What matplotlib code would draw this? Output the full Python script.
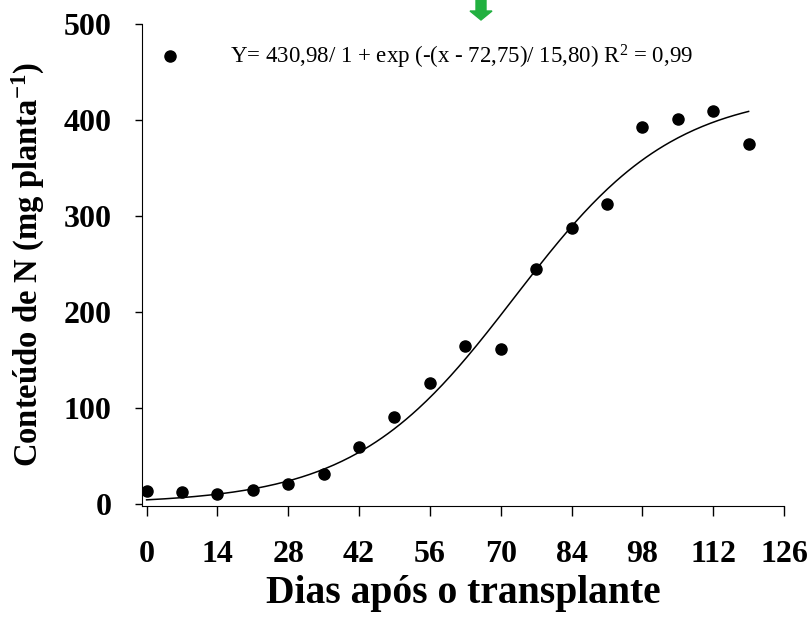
import numpy as np
import matplotlib
matplotlib.use("Agg")
import matplotlib.pyplot as plt
from matplotlib.patches import FancyArrow

plt.rcParams['font.family'] = ['Liberation Serif', 'DejaVu Serif']
plt.rcParams['mathtext.fontset'] = 'custom'
plt.rcParams['mathtext.rm'] = 'Liberation Serif'
plt.rcParams['mathtext.it'] = 'Liberation Serif:italic'
plt.rcParams['mathtext.bf'] = 'Liberation Serif:bold'

days = [0, 7, 14, 21, 28, 35, 42, 49, 56, 63, 70, 77, 84, 91, 98, 105, 112, 119]
n_content = [13.8, 12.5, 10.4, 14.2, 21, 31, 59, 91, 125.6, 165, 162, 245, 288, 312.5, 392.5, 401, 409, 375]
a_param, x0_param, b_param = 430.98, 72.75, 15.80
x_ticks = [0, 14, 28, 42, 56, 70, 84, 98, 112, 126]
y_ticks = [0, 100, 200, 300, 400, 500]
eq_label = "Y= 430,98/ 1 + exp (-(x - 72,75)/ 15,80) R$^{\\mathrm{2}}$ = 0,99"

fig = plt.figure(figsize=(8.07, 6.2), dpi=100)
ax = fig.add_axes([0.176, 0.1844, 0.7955, 0.7766])

xf = np.linspace(min(days), max(days), 300)
yf = a_param / (1 + np.exp(-(xf - x0_param) / b_param))
ax.plot(xf, yf, color='black', lw=1.1)
ax.plot(days, n_content, 'o', color='black', ms=8, label=eq_label)

ax.set_xlim(-0.9, 126)
ax.set_ylim(-1.8, 500)
ax.set_xticks(x_ticks)
ax.set_yticks(y_ticks)
ax.spines['top'].set_visible(False)
ax.spines['right'].set_visible(False)
ax.tick_params(axis='x', direction='out', length=7, width=1, pad=18, labelsize=23)
ax.tick_params(axis='y', direction='out', length=5, width=1, pad=17, labelsize=23)
for lab in ax.get_xticklabels() + ax.get_yticklabels():
    lab.set_fontweight('bold')

ax.set_xlabel('Dias após o transplante', fontsize=28.5, fontweight='bold', labelpad=4)
ax.set_ylabel('Conteúdo de N (mg planta$^{\\mathbf{-1}}$)', fontsize=23.5, fontweight='bold', labelpad=12)

leg = ax.legend(loc='upper left', bbox_to_anchor=(-0.006, 0.98), frameon=False,
                fontsize=16.5, handletextpad=1.6, borderaxespad=0, handlelength=2.0)

# green arrow decoration at top
fig.patches.append(FancyArrow(481/807, 1.0, 0, -20/620, width=10/807, head_width=22/807,
                              head_length=9/620, length_includes_head=True,
                              transform=fig.transFigure, color='#22b040', figure=fig))

fig.savefig('out.png', dpi=100)
